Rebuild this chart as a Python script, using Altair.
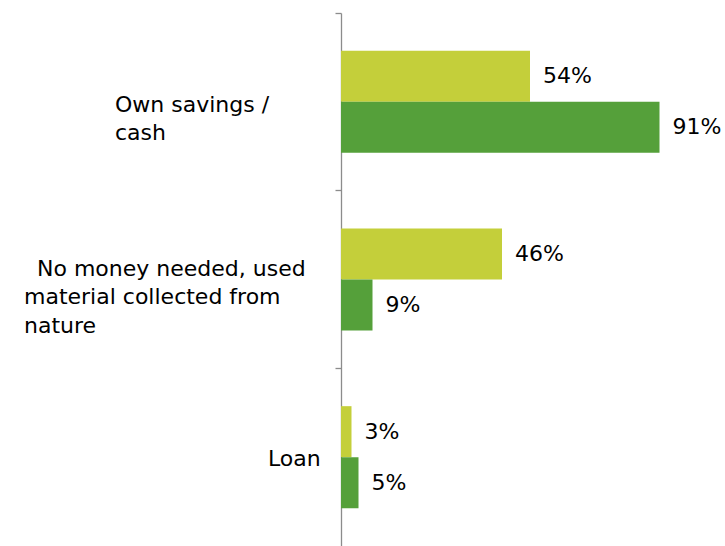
import altair as alt
import pandas as pd

categories = ["Own savings / cash", "No money needed, used material collected from nature", "Loan"]
category_lines = [
    ["Own savings /", "cash"],
    ["No money needed, used", "material collected from", "nature"],
    ["Loan"],
]
series_names = ["Series 1", "Series 2"]
series1_values = [54, 46, 3]
series2_values = [91, 9, 5]
colors = ["#C4CF3A", "#55A03A"]

rows = []
for cat, v1, v2 in zip(categories, series1_values, series2_values):
    rows.append({"category": cat, "series": series_names[0], "value": v1, "label": f"{v1}%"})
    rows.append({"category": cat, "series": series_names[1], "value": v2, "label": f"{v2}%"})
df = pd.DataFrame(rows)

FONT = "DejaVu Sans"
LINE_H = 28.4

y_enc = alt.Y(
    "category:N",
    sort=categories,
    scale=alt.Scale(paddingInner=0, paddingOuter=0),
    axis=alt.Axis(
        labels=False, title=None, bandPosition=0, grid=False,
        domainColor="#8c8c8c", tickColor="#8c8c8c", tickSize=6,
        domainWidth=1.3, tickWidth=1.3,
    ),
)
x_enc = alt.X("value:Q", scale=alt.Scale(domain=[0, 100]), axis=None)
yoff = alt.YOffset("series:N", sort=series_names,
                   scale=alt.Scale(paddingInner=0, paddingOuter=0.742))
color_enc = alt.Color("series:N", sort=series_names,
                      scale=alt.Scale(domain=series_names, range=colors), legend=None)

base = alt.Chart(df)
bars = base.mark_bar().encode(y=y_enc, x=x_enc, yOffset=yoff, color=color_enc)
values = base.mark_text(align="left", baseline="middle", dx=13, font=FONT,
                        fontSize=22, color="black").encode(
    y=alt.Y("category:N", sort=categories), x=x_enc, yOffset=yoff, text="label:N")

# label block placement (style): left x relative to plot origin, vertical shift,
# and per-line indents
label_style = [(-226, 9.7, [0, 0]), (-317, -3.8, [13, 0, 0]), (-73, 9.0, [0])]
label_layers = []
for cat, lines, (lx, ldy, indents) in zip(categories, category_lines, label_style):
    for i, (line, ind) in enumerate(zip(lines, indents)):
        label_layers.append(
            alt.Chart(pd.DataFrame({"category": [cat]})).mark_text(
                text=line, align="left", baseline="alphabetic", font=FONT,
                fontSize=22, dy=ldy + i * LINE_H, color="black",
            ).encode(y=alt.Y("category:N", sort=categories), x=alt.value(lx + ind))
        )

chart = alt.layer(bars, values, *label_layers).properties(
    width=350, height=533,
    autosize=alt.AutoSizeParams(type="none"),
    padding={"left": 341, "top": 13, "right": 34, "bottom": 0},
).configure(background="white", view=alt.ViewConfig(stroke=None))

chart.save("out.html", embed_options={"renderer": "svg", "actions": False})
